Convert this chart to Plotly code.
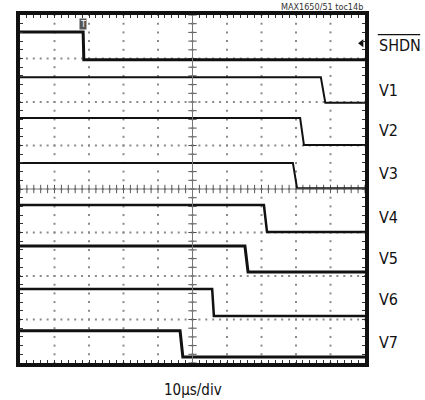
import numpy as np
import plotly.graph_objects as go

# Channel data in scope divisions (x: 0..10 div of 10us, y: 0..8 div)
channels = ["SHDN", "V1", "V2", "V3", "V4", "V5", "V6", "V7"]
high_level = [7.61, 6.57, 5.63, 4.60, 3.63, 2.69, 1.70, 0.74]
low_level = [6.97, 5.98, 5.01, 4.02, 3.01, 2.09, 1.08, 0.14]
fall_start = [1.83, 8.72, 8.12, 7.91, 7.07, 6.52, 5.57, 4.64]
fall_end = [1.85, 8.85, 8.23, 8.03, 7.16, 6.61, 5.62, 4.72]
label_y = [7.31, 6.27, 5.35, 4.35, 3.35, 2.4, 1.45, 0.48]
line_w = [3, 2, 2, 2, 2.5, 3, 2.5, 3]

X_DIV, Y_DIV = 10, 8
FONT = "DejaVu Sans Condensed, Liberation Sans Narrow, Arial Narrow, Liberation Sans, Arial"

fig = go.Figure()

# dotted graticule
gx, gy = [], []
for i in range(1, X_DIV):
    for y in np.arange(0, Y_DIV + 0.001, 0.2):
        gx.append(i); gy.append(y)
for j in range(1, Y_DIV):
    for x in np.arange(0, X_DIV + 0.001, 0.2):
        gx.append(x); gy.append(j)
fig.add_trace(go.Scatter(x=gx, y=gy, mode="markers",
                         marker=dict(symbol="square", size=2, color="#8a8a8a"),
                         hoverinfo="skip", showlegend=False))

# centre cross with tick marks
cx = np.arange(0, X_DIV + 0.001, 0.2)
cy = np.arange(0, Y_DIV + 0.001, 0.2)
fig.add_trace(go.Scatter(x=cx, y=[Y_DIV / 2] * len(cx), mode="markers",
                         marker=dict(symbol="line-ns", size=6, line=dict(width=1, color="#555")),
                         hoverinfo="skip", showlegend=False))
fig.add_trace(go.Scatter(x=[X_DIV / 2] * len(cy), y=cy, mode="markers",
                         marker=dict(symbol="line-ew", size=6, line=dict(width=1, color="#555")),
                         hoverinfo="skip", showlegend=False))
fig.add_shape(type="line", x0=0, x1=X_DIV, y0=Y_DIV / 2, y1=Y_DIV / 2,
              line=dict(color="#777", width=1))
fig.add_shape(type="line", x0=X_DIV / 2, x1=X_DIV / 2, y0=0, y1=Y_DIV,
              line=dict(color="#777", width=1))

# traces
for name, hi, lo, fs, fe, w in zip(channels, high_level, low_level, fall_start, fall_end, line_w):
    fig.add_trace(go.Scatter(x=[0, fs, fe, X_DIV], y=[hi, hi, lo, lo], mode="lines",
                             line=dict(color="#111", width=w), name=name,
                             hoverinfo="skip", showlegend=False))

# right-side labels
for name, ly in zip(channels, label_y):
    fig.add_annotation(x=1.0, xref="paper", xshift=12, y=ly, yref="y",
                       text=name, showarrow=False, xanchor="left", yanchor="middle",
                       font=dict(family=FONT, size=16, color="#111"))
# overline for SHDN
fig.add_shape(type="line", xref="paper", yref="y", x0=1.037, x1=1.16,
              y0=label_y[0] + 0.24, y1=label_y[0] + 0.24,
              line=dict(color="#111", width=1.2))

# trigger marker and ground arrow
fig.add_annotation(x=fall_start[0], y=Y_DIV, yshift=-3, text="T", showarrow=False,
                   font=dict(family=FONT, size=9, color="white"),
                   bgcolor="#555", borderpad=0, yanchor="top")
fig.add_trace(go.Scatter(x=[X_DIV - 0.1], y=[7.35], mode="markers",
                         marker=dict(symbol="triangle-left", size=7, color="#111"),
                         hoverinfo="skip", showlegend=False, cliponaxis=False))

fig.add_annotation(x=1.0, xref="paper", y=1.0, yref="paper", yshift=1,
                   text="MAX1650/51 toc14b", showarrow=False,
                   xanchor="right", yanchor="bottom",
                   font=dict(family=FONT, size=9, color="#333"))
fig.add_annotation(x=0.5, xref="paper", y=0, yref="paper", yshift=-16,
                   text="10µs/div", showarrow=False, xanchor="center", yanchor="top",
                   font=dict(family=FONT, size=15, color="#111"))

axis_common = dict(showgrid=False, zeroline=False, showticklabels=False,
                   showline=True, linecolor="#111", linewidth=4, mirror="ticks",
                   ticks="inside", ticklen=3, tickwidth=1, tickcolor="#333")
fig.update_xaxes(range=[0, X_DIV], dtick=0.2, tick0=0, **axis_common)
fig.update_yaxes(range=[0, Y_DIV], dtick=0.2, tick0=0, **axis_common)

fig.update_layout(width=425, height=400, margin=dict(l=20, r=60, t=15, b=37),
                  paper_bgcolor="white", plot_bgcolor="white")

fig.write_html("out.html", config={"displayModeBar": False},
               post_script="document.body.style.margin='0';document.body.style.padding='0';")
